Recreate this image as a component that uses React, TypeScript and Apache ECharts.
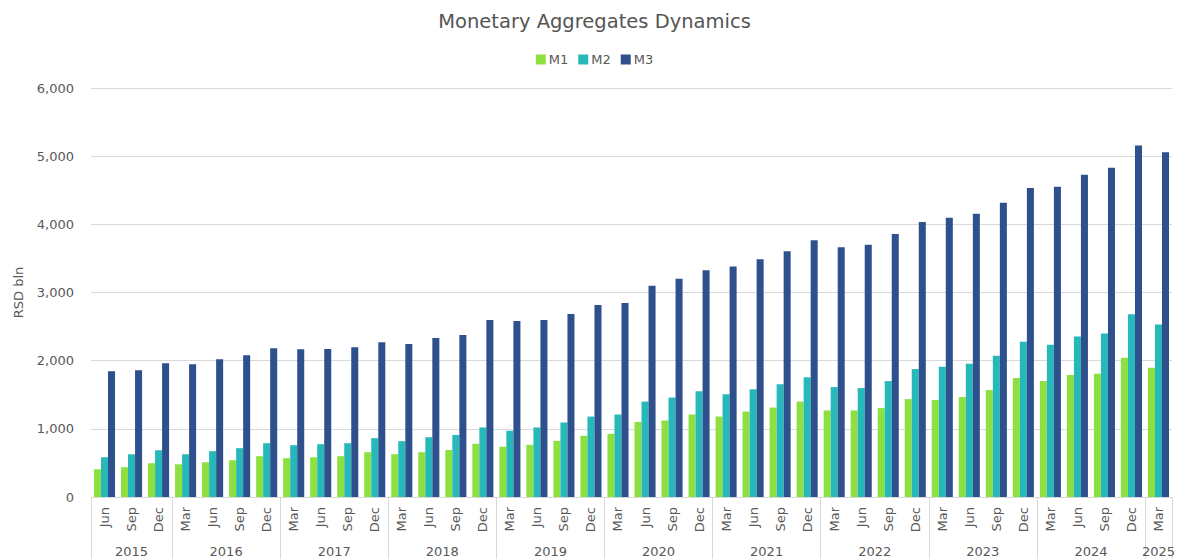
import React, { useEffect, useRef } from "react";
import * as echarts from "echarts";

const quarters = [
  "Jun", "Sep", "Dec",
  "Mar", "Jun", "Sep", "Dec",
  "Mar", "Jun", "Sep", "Dec",
  "Mar", "Jun", "Sep", "Dec",
  "Mar", "Jun", "Sep", "Dec",
  "Mar", "Jun", "Sep", "Dec",
  "Mar", "Jun", "Sep", "Dec",
  "Mar", "Jun", "Sep", "Dec",
  "Mar", "Jun", "Sep", "Dec",
  "Mar", "Jun", "Sep", "Dec",
  "Mar",
];
const years = ["2015", "2016", "2017", "2018", "2019", "2020", "2021", "2022", "2023", "2024", "2025"];
const yearSpans = [3, 4, 4, 4, 4, 4, 4, 4, 4, 4, 1];

const m1 = [
  407, 436, 495,
  480, 510, 539, 598,
  569, 583, 598, 657,
  627, 657, 690, 780,
  737, 766, 824, 898,
  927, 1102, 1122, 1210,
  1180, 1254, 1312, 1400,
  1270, 1270, 1304, 1436,
  1422, 1466, 1569, 1745,
  1701, 1789, 1809, 2044,
  1897,
];
const m2 = [
  583, 627, 686,
  627, 672, 716, 789,
  760, 775, 789, 863,
  819, 877, 910, 1020,
  971, 1020, 1093, 1180,
  1210, 1400, 1459, 1551,
  1507, 1580, 1654, 1756,
  1613, 1598, 1701, 1877,
  1912, 1956, 2073, 2279,
  2235, 2353, 2397, 2681,
  2529,
];
const m3 = [
  1845, 1860, 1962,
  1948, 2020, 2080, 2183,
  2168, 2170, 2198, 2272,
  2243, 2332, 2375, 2597,
  2582, 2597, 2686, 2817,
  2847, 3100, 3203, 3325,
  3380, 3488, 3605, 3767,
  3665, 3700, 3860, 4036,
  4097, 4155, 4318, 4533,
  4552, 4728, 4831, 5155,
  5056,
];

const FONT = "DejaVu Sans";
const TEXT = "#595959";
const GRID = "#d9d9d9";

export default function App() {
  const ref = useRef<HTMLDivElement>(null);

  useEffect(() => {
    document.body.style.margin = "0";
    if (!ref.current) return;
    const chart = echarts.init(ref.current, undefined, { renderer: "svg" });

    // Year axis on half-category positions: 2 * count + 1 entries
    const n = quarters.length;
    const yearAxisData: string[] = new Array(2 * n + 1).fill("");
    const boundaries = new Set<number>();
    let start = 0;
    yearSpans.forEach((span, i) => {
      boundaries.add(2 * start);
      yearAxisData[2 * start + span] = years[i];
      start += span;
    });
    boundaries.add(2 * start);

    chart.setOption({
      animation: false,
      textStyle: { fontFamily: FONT },
      title: {
        text: "Monetary Aggregates Dynamics",
        left: "center",
        top: 6,
        textStyle: { fontFamily: FONT, fontSize: 19.5, fontWeight: "normal", color: "#555555" },
      },
      legend: {
        top: 48,
        left: "center",
        icon: "rect",
        itemWidth: 10,
        itemHeight: 10,
        itemGap: 10,
        textStyle: { fontFamily: FONT, fontSize: 13, color: TEXT, padding: [0, 0, 0, -2] },
        data: ["M1", "M2", "M3"],
      },
      grid: { left: 91, right: 17, top: 88, bottom: 62 },
      xAxis: [
        {
          type: "category",
          data: quarters,
          axisLine: { lineStyle: { color: GRID } },
          axisTick: { show: false },
          axisLabel: {
            rotate: 90,
            interval: 0,
            margin: 10,
            fontFamily: FONT,
            fontSize: 13,
            color: TEXT,
          },
        },
        {
          type: "category",
          data: yearAxisData,
          boundaryGap: false,
          position: "bottom",
          axisLine: { show: false },
          axisTick: {
            show: true,
            length: 62,
            interval: (index: number) => boundaries.has(index),
            lineStyle: { color: GRID },
          },
          axisLabel: {
            interval: (_index: number, value: string) => value !== "",
            margin: 48,
            fontFamily: FONT,
            fontSize: 13,
            color: TEXT,
          },
          splitLine: { show: false },
        },
      ],
      yAxis: {
        type: "value",
        min: 0,
        max: 6000,
        interval: 1000,
        name: "RSD bln",
        nameLocation: "middle",
        nameRotate: 90,
        nameGap: 66,
        nameTextStyle: { fontFamily: FONT, fontSize: 13, color: TEXT },
        axisLine: { show: false },
        axisTick: { show: false },
        axisLabel: {
          margin: 17,
          fontFamily: FONT,
          fontSize: 13,
          color: TEXT,
          formatter: (v: number) => v.toLocaleString("en-US"),
        },
        splitLine: { lineStyle: { color: GRID } },
      },
      series: [
        { name: "M1", type: "bar", data: m1, barGap: "0%", barCategoryGap: "22%", itemStyle: { color: "#8de03f" } },
        { name: "M2", type: "bar", data: m2, barGap: "0%", barCategoryGap: "22%", itemStyle: { color: "#27b9b9" } },
        { name: "M3", type: "bar", data: m3, barGap: "0%", barCategoryGap: "22%", itemStyle: { color: "#2e518e" } },
      ],
    });

    return () => chart.dispose();
  }, []);

  return <div ref={ref} style={{ width: 1189, height: 559 }} />;
}
